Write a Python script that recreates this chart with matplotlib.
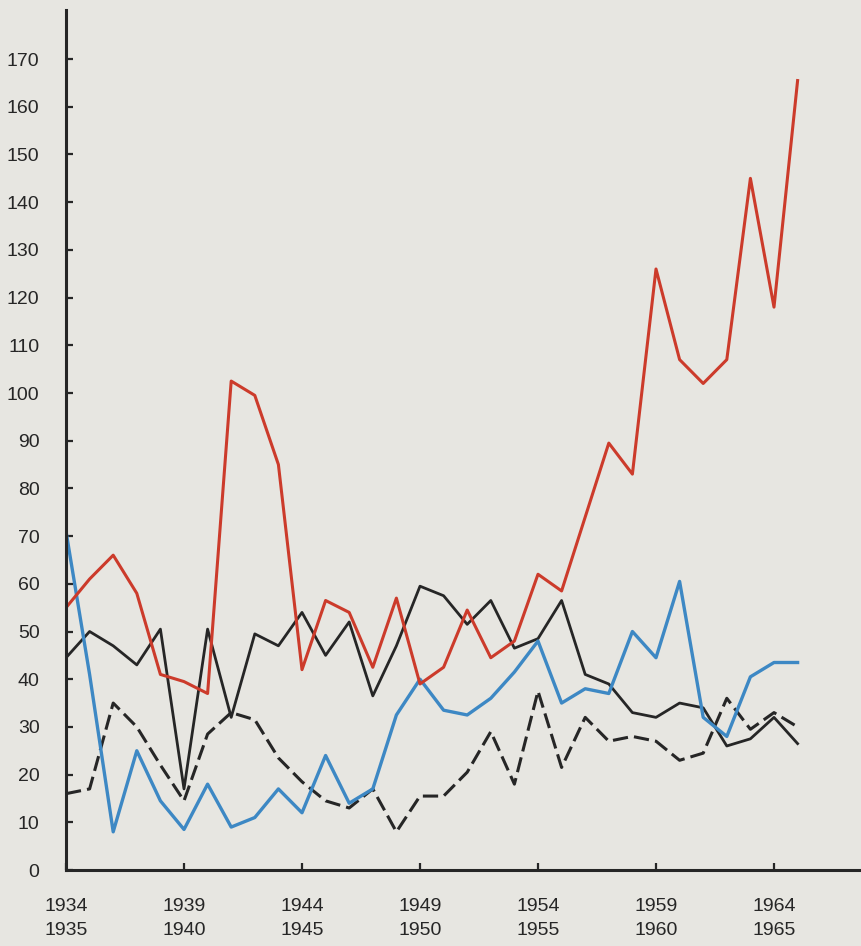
import matplotlib
matplotlib.use("Agg")
from matplotlib import pyplot as plt

# school years 1934-35 ... 1965-66
start_years = list(range(1934, 1966))

red = [55, 61, 66, 58, 41, 39.5, 37, 102.5, 99.5, 85,
       42, 56.5, 54, 42.5, 57, 39, 42.5, 54.5, 44.5, 48,
       62, 58.5, 74, 89.5, 83, 126, 107, 102, 107, 145,
       118, 165.5]
blue = [71, 41, 8, 25, 14.5, 8.5, 18, 9, 11, 17,
        12, 24, 14, 17, 32.5, 40, 33.5, 32.5, 36, 41.5,
        48, 35, 38, 37, 50, 44.5, 60.5, 32, 28, 40.5,
        43.5, 43.5]
black = [44.5, 50, 47, 43, 50.5, 17, 50.5, 32, 49.5, 47,
         54, 45, 52, 36.5, 47, 59.5, 57.5, 51.5, 56.5, 46.5,
         48.5, 56.5, 41, 39, 33, 32, 35, 34, 26, 27.5,
         32, 26.5]
black_dashed = [16, 17, 35, 30, 22, 14.5, 28.5, 33, 31.5, 23.5,
                18.5, 14.5, 13, 17, 8, 15.5, 15.5, 20.5, 29, 18,
                37.5, 21.5, 32, 27, 28, 27, 23, 24.5, 36, 29.5,
                33, 30]

tick_pos = [0, 5, 10, 15, 20, 25, 30]
tick_labels = [f"{start_years[i]}\n{start_years[i] + 1}" for i in tick_pos]

paper = "#e7e6e1"
ink = "#262626"

plt.rcParams["font.family"] = ["Liberation Sans", "DejaVu Sans"]

fig = plt.figure(figsize=(8.62, 9.46), dpi=100, facecolor=paper)
ax = fig.add_axes([66 / 862, 76 / 946, 1 - 66 / 862, 860 / 946])
ax.set_facecolor(paper)

x = list(range(len(start_years)))
ax.plot(x, black_dashed, color=ink, lw=2.2, dashes=(5, 2), solid_capstyle="butt")
ax.plot(x, black, color=ink, lw=2.0)
ax.plot(x, blue, color="#3d88c4", lw=2.4)
ax.plot(x, red, color="#cc3b2b", lw=2.2)

ax.set_xlim(0, (862 - 66) / 23.6)
ax.set_ylim(0, 860 / 4.77)

ax.set_yticks(range(0, 171, 10))
ax.set_xticks(tick_pos)
ax.set_xticklabels(tick_labels, linespacing=1.55)

for side in ("top", "right"):
    ax.spines[side].set_visible(False)
for side in ("left", "bottom"):
    ax.spines[side].set_linewidth(2.2)
    ax.spines[side].set_color(ink)

ax.tick_params(axis="y", direction="in", length=5, width=1.6, color=ink,
               pad=19, labelsize=14, labelcolor=ink)
ax.tick_params(axis="x", direction="in", length=5, width=1.6, color=ink,
               pad=20, labelsize=14, labelcolor=ink)

fig.savefig("out.png", dpi=100, facecolor=paper)
